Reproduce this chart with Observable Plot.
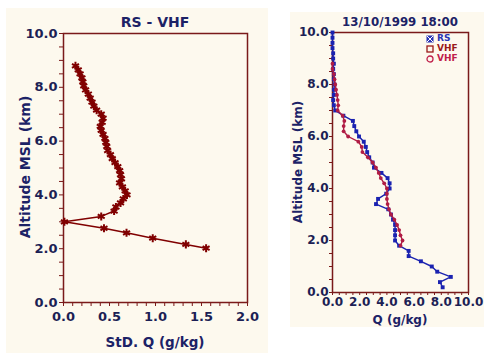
<!DOCTYPE html>
<html><head><meta charset="utf-8">
<script src="https://cdn.jsdelivr.net/npm/d3@7"></script>
<script src="https://cdn.jsdelivr.net/npm/@observablehq/plot@0.6"></script>
<style>
body{margin:0;background:#fff;width:487px;height:353px;position:relative;overflow:hidden;font-family:"DejaVu Sans",Verdana,sans-serif;}
.panel{position:absolute;background:#fdf9ee;}
.panel svg{position:absolute;left:0;top:0;}
.t{position:absolute;font-weight:bold;color:#1c2266;white-space:nowrap;transform:translate(-50%,-50%);}
.lg{position:absolute;font-weight:bold;font-size:9px;white-space:nowrap;line-height:10px;}
.lg svg{vertical-align:middle;margin-right:3px;}
</style></head><body>
<div class="panel" id="L" style="left:6px;top:8px;width:262px;height:345px"></div>
<div class="panel" id="R" style="left:290px;top:12px;width:194px;height:315px"></div>
<div class="t" style="left:155px;top:22px;font-size:14px">RS - VHF</div>
<div class="t" style="left:25px;top:167px;font-size:14px;transform:translate(-50%,-50%) rotate(-90deg)">Altitude MSL (km)</div>
<div class="t" style="left:155px;top:342px;font-size:13.5px">StD. Q (g/kg)</div>
<div class="t" style="left:400px;top:22px;font-size:11.8px">13/10/1999 18:00</div>
<div class="t" style="left:298px;top:162px;font-size:12px;transform:translate(-50%,-50%) rotate(-90deg)">Altitude MSL (km)</div>
<div class="t" style="left:400px;top:320px;font-size:12px">Q (g/kg)</div>
<div class="lg" style="left:426px;top:33px;color:#2a35b5"><svg width="8" height="8"><rect x="0.5" y="0.5" width="7" height="7" fill="#2a35b5"/><path d="M1,1L7,7M7,1L1,7" stroke="#fff" stroke-width="1"/></svg>RS</div>
<div class="lg" style="left:426px;top:43px;color:#9a1a1a"><svg width="8" height="8"><rect x="1" y="1" width="6" height="6" fill="none" stroke="#9a1a1a" stroke-width="1.3"/></svg>VHF</div>
<div class="lg" style="left:426px;top:53px;color:#c0204a"><svg width="8" height="8"><circle cx="4" cy="4" r="3" fill="none" stroke="#c0204a" stroke-width="1.3"/></svg>VHF</div>
<script>
// Left panel: standard deviation of Q (RS - VHF)
const stdAlt = [8.80,8.65,8.50,8.35,8.20,8.05,7.90,7.75,7.60,7.45,7.30,7.15,7.00,6.85,6.70,6.55,6.40,6.25,6.10,5.95,5.80,5.65,5.50,5.35,5.20,5.05,4.90,4.75,4.60,4.45,4.30,4.15,4.00,3.85,3.70,3.55,3.40,3.20,3.00,2.76,2.59,2.39,2.16,2.02];
const stdQ   = [0.13,0.16,0.18,0.20,0.21,0.22,0.24,0.27,0.29,0.31,0.33,0.36,0.41,0.43,0.42,0.40,0.41,0.43,0.45,0.46,0.47,0.48,0.51,0.53,0.56,0.59,0.61,0.62,0.63,0.61,0.64,0.67,0.69,0.65,0.62,0.57,0.55,0.41,0.01,0.44,0.685,0.97,1.33,1.55];
// Right panel: RS profile
const rsAlt = [10.0,9.8,9.6,9.4,9.2,9.0,8.8,8.6,8.4,8.2,8.0,7.8,7.6,7.4,7.2,7.0,6.8,6.6,6.4,6.2,6.0,5.8,5.6,5.4,5.2,5.0,4.8,4.6,4.4,4.2,4.0,3.8,3.6,3.4,3.2,3.0,2.8,2.6,2.4,2.2,2.0,1.8,1.6,1.4,1.2,1.0,0.8,0.6,0.4,0.2];
const rsQ   = [0.0,0.0,0.0,0.0,0.05,0.05,0.1,0.05,0.1,0.1,0.15,0.1,0.1,0.05,0.1,0.2,0.8,1.5,1.6,1.75,1.95,2.3,2.45,2.55,2.7,2.95,3.05,3.6,4.05,4.2,4.2,3.95,3.35,3.2,4.1,4.3,4.45,4.6,4.6,4.6,4.6,4.9,5.6,5.6,6.5,7.3,7.7,8.7,7.9,8.1];
// Right panel: VHF profile
const vhfAlt = [8.8,8.6,8.4,8.2,8.0,7.8,7.6,7.4,7.2,7.0,6.8,6.6,6.4,6.2,6.0,5.8,5.6,5.4,5.2,5.0,4.8,4.6,4.4,4.2,4.0,3.8,3.6,3.4,3.2,3.0,2.8,2.6,2.4,2.2,2.0,1.8];
const vhfQ   = [0.0,0.0,0.1,0.15,0.2,0.26,0.33,0.38,0.42,0.38,0.75,0.87,0.82,0.82,1.15,1.9,2.15,2.2,2.6,2.95,3.2,3.4,3.55,3.8,4.0,4.0,4.0,4.05,4.15,4.3,4.55,4.75,4.9,5.0,5.15,5.0];
// Tick labels
const leftXLabels = [0,0.5,1.0,1.5,2.0];
const leftYLabels = [0,2,4,6,8,10];
const rightXLabels = [0,2,4,6,8,10];
const rightYLabels = [0,2,4,6,8,10];

const axisColor = "#7a1a1a";
const fmt = d => d.toFixed(1);
const stdData = stdAlt.map((a,i)=>({alt:a,q:stdQ[i]}));
const rsData = rsAlt.map((a,i)=>({alt:a,q:rsQ[i]}));
const vhfData = vhfAlt.map((a,i)=>({alt:a,q:vhfQ[i]}));

const styleL = {background:"transparent",color:"#1c1f55",fontFamily:"'DejaVu Sans',Verdana,sans-serif",fontWeight:"bold",fontSize:"13px",overflow:"visible"};

const left = Plot.plot({
  width:262, height:345, marginLeft:57, marginRight:21, marginTop:25, marginBottom:51,
  x:{domain:[0,2], label:null}, y:{domain:[0,10], label:null},
  style:styleL,
  marks:[
    Plot.axisX({ticks:d3.range(0,21).map(i=>i/10), tickSize:4, tickFormat:()=>"", stroke:axisColor, label:null}),
    Plot.axisX({ticks:leftXLabels, tickSize:0, tickPadding:9, tickFormat:fmt, label:null}),
    Plot.axisY({ticks:d3.range(0,21).map(i=>i/2), tickSize:4, tickFormat:()=>"", stroke:axisColor, label:null}),
    Plot.axisY({ticks:leftYLabels, tickSize:0, tickPadding:6, tickFormat:fmt, label:null}),
    Plot.frame({stroke:axisColor, strokeWidth:1.5}),
    Plot.line(stdData,{x:"q",y:"alt",stroke:"#800000",strokeWidth:1.5}),
    Plot.dot(stdData,{x:"q",y:"alt",symbol:"asterisk",stroke:"#800000",r:3.8,strokeWidth:2})
  ]
});
document.getElementById("L").appendChild(left);

const right = Plot.plot({
  width:194, height:315, marginLeft:42, marginRight:16, marginTop:20, marginBottom:35,
  x:{domain:[0,10], label:null}, y:{domain:[0,10], label:null},
  style:{...styleL, fontSize:"12px"},
  marks:[
    Plot.axisX({ticks:d3.range(0,21).map(i=>i/2), tickSize:3, tickFormat:()=>"", stroke:axisColor, label:null}),
    Plot.axisX({ticks:rightXLabels, tickSize:0, tickPadding:5, tickFormat:fmt, label:null}),
    Plot.axisY({ticks:d3.range(0,21).map(i=>i/2), tickSize:3, tickFormat:()=>"", stroke:axisColor, label:null}),
    Plot.axisY({ticks:rightYLabels, tickSize:0, tickPadding:4, tickFormat:fmt, label:null}),
    Plot.frame({stroke:axisColor, strokeWidth:1.5}),
    Plot.line(rsData,{x:"q",y:"alt",stroke:"#1a22b0",strokeWidth:1.4}),
    Plot.dot(rsData,{x:"q",y:"alt",symbol:"square",fill:"#1a22b0",r:2.2}),
    Plot.line(vhfData,{x:"q",y:"alt",stroke:"#b01c44",strokeWidth:1.4}),
    Plot.dot(vhfData,{x:"q",y:"alt",symbol:"circle",fill:"#b01c44",r:1.9})
  ]
});
document.getElementById("R").appendChild(right);
</script>
</body></html>
